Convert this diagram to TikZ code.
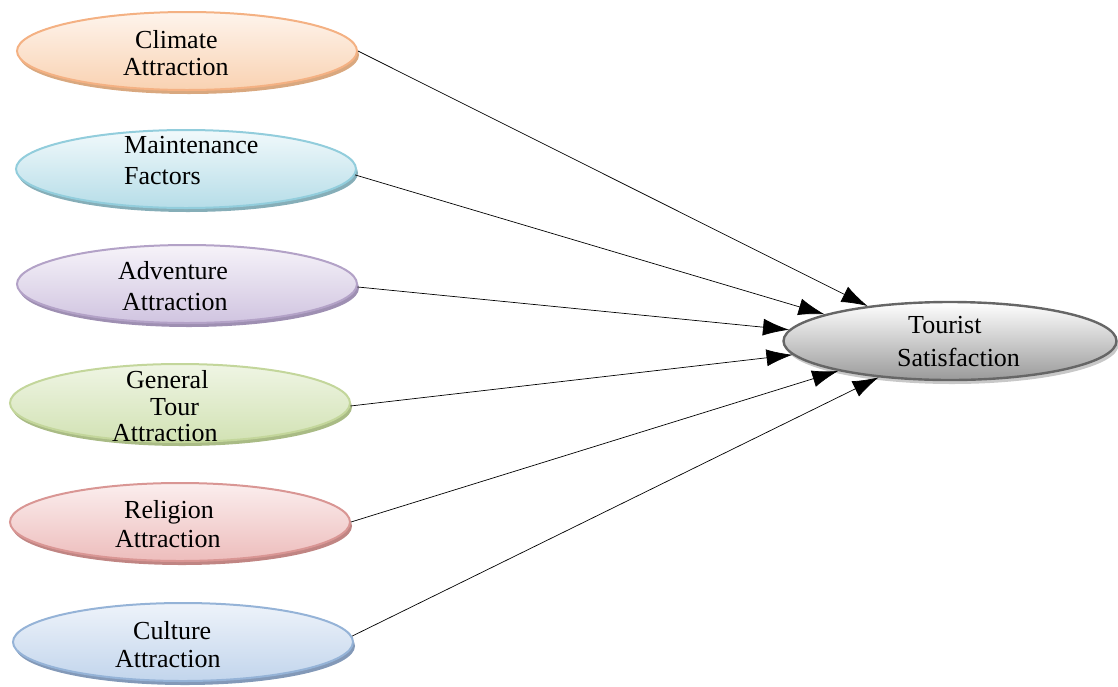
\documentclass[tikz,border=0pt]{standalone}
\usepackage{fontspec}
\setmainfont{Liberation Serif}
\usetikzlibrary{shapes.geometric,shadows,arrows.meta}
\begin{document}
\begin{tikzpicture}[x=1pt,y=-1pt,
  oval/.style={ellipse, minimum width=340pt, minimum height=78pt, inner sep=0pt, line width=2pt},
  lbl/.style={anchor=base west, inner sep=0pt, font=\fontsize{26}{30}\selectfont},
  shad/.style={drop shadow={shadow xshift=2pt, shadow yshift=-4pt, fill=#1, opacity=1}},
  conn/.style={line width=0.7pt, -{Latex[length=26pt,width=17pt]}}]
\useasboundingbox (0,0) rectangle (1118,686);
\definecolor{o1}{HTML}{F4B183}\definecolor{o1a}{HTML}{FEF4EC}\definecolor{o1b}{HTML}{F9D2B2}\definecolor{o1s}{HTML}{D9A87F}
\definecolor{b1}{HTML}{92CDDC}\definecolor{b1a}{HTML}{F1F9FB}\definecolor{b1b}{HTML}{B6DDE8}\definecolor{b1s}{HTML}{86AEB8}
\definecolor{p1}{HTML}{B3A2C7}\definecolor{p1a}{HTML}{F6F3F9}\definecolor{p1b}{HTML}{D0C4E0}\definecolor{p1s}{HTML}{9E8FB2}
\definecolor{g1}{HTML}{C3D69B}\definecolor{g1a}{HTML}{EFF5E4}\definecolor{g1b}{HTML}{D2E2B4}\definecolor{g1s}{HTML}{A9BB85}
\definecolor{r1}{HTML}{D99694}\definecolor{r1a}{HTML}{FBEEEE}\definecolor{r1b}{HTML}{EDBDBC}\definecolor{r1s}{HTML}{C08583}
\definecolor{u1}{HTML}{95B3D7}\definecolor{u1a}{HTML}{EEF3FA}\definecolor{u1b}{HTML}{C2D5EC}\definecolor{u1s}{HTML}{8399B8}
\definecolor{k1}{HTML}{666666}\definecolor{k1a}{HTML}{FFFFFF}\definecolor{k1b}{HTML}{9A9A9A}\definecolor{k1s}{HTML}{C8C8C8}

\node[oval, draw=o1, top color=o1a, bottom color=o1b, shad=o1s] (c1) at (187,51) {};
\node[oval, draw=b1, top color=b1a, bottom color=b1b, shad=b1s] (c2) at (186,169) {};
\node[oval, draw=p1, top color=p1a, bottom color=p1b, shad=p1s] (c3) at (187,284) {};
\node[oval, draw=g1, top color=g1a, bottom color=g1b, shad=g1s] (c4) at (180,403) {};
\node[oval, draw=r1, top color=r1a, bottom color=r1b, shad=r1s] (c5) at (180,522) {};
\node[oval, draw=u1, top color=u1a, bottom color=u1b, shad=u1s] (c6) at (183,642) {};
\node[oval, minimum width=333pt, line width=2.4pt, draw=k1, top color=k1a, bottom color=k1b, shad=k1s] (ts) at (950,341) {};

\node[lbl] (t1a) at (135,48) {Climate};
\node[lbl] (t1b) at (123,75) {Attraction};
\node[lbl] (t2a) at (124,153) {Maintenance};
\node[lbl] (t2b) at (124,184) {Factors};
\node[lbl] (t3a) at (118,279) {Adventure};
\node[lbl] (t3b) at (122,310) {Attraction};
\node[lbl] (t4a) at (126,388) {General};
\node[lbl] (t4b) at (150,415) {Tour};
\node[lbl] (t4c) at (112,441) {Attraction};
\node[lbl] (t5a) at (124,518) {Religion};
\node[lbl] (t5b) at (115,547) {Attraction};
\node[lbl] (t6a) at (133,639) {Culture};
\node[lbl] (t6b) at (115,667) {Attraction};
\node[lbl] (tsa) at (908,333) {Tourist};
\node[lbl] (tsb) at (897,366) {Satisfaction};

\draw[conn] (c1.east) -- (ts.157);
\draw[conn] (c2.-2.5) -- (ts.168.5);
\draw[conn] (c3.-1.5) -- (ts.176);
\draw[conn] (c4.-1) -- (ts.185.6);
\draw[conn] (c5.east) -- (ts.195.5);
\draw[conn] (c6.2) -- (ts.207);
\end{tikzpicture}
\end{document}
